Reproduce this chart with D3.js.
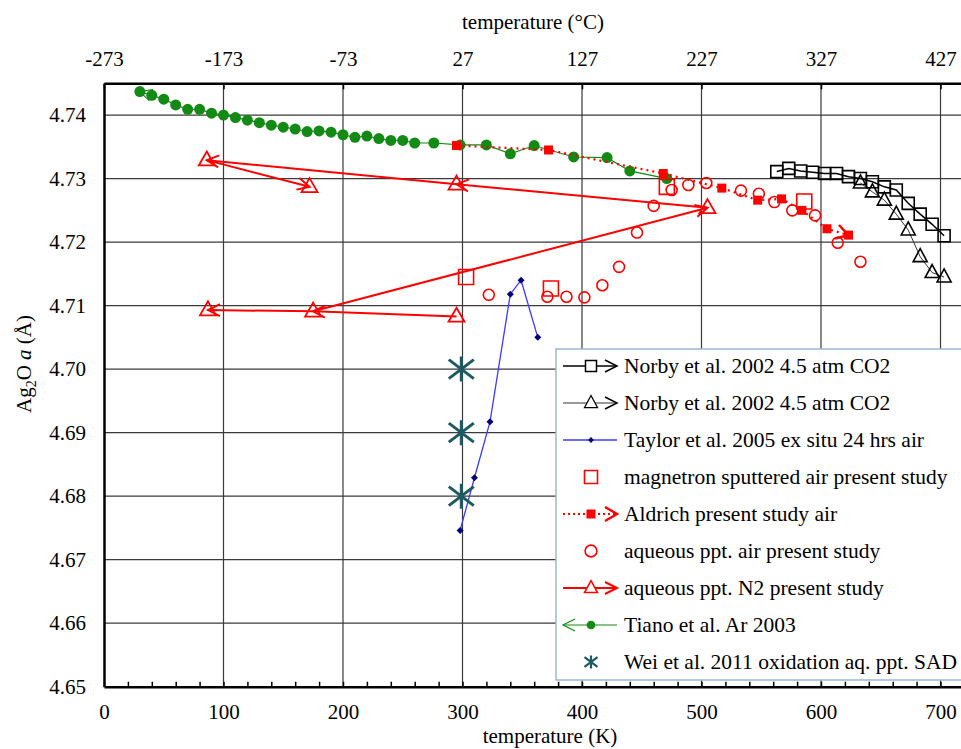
<!DOCTYPE html>
<html>
<head>
<meta charset="utf-8">
<script src="https://cdn.jsdelivr.net/npm/d3@7"></script>
<style>
body { margin: 0; background: #fff; }
text { font-family: "Liberation Serif", "Times New Roman", serif; fill: #000; }
</style>
</head>
<body>
<div id="chart"></div>
<script>
// values (K, lattice parameter in Å)
const tianoK = [30,40,50,60,70,80,90,100,110,120,130,140,150,160,170,180,190,200,210,220,230,240,250,260,276,298,320,340,360,393,421,440,471];
const tianoA = [4.7437,4.7431,4.7425,4.7416,4.7409,4.7409,4.7403,4.7400,4.7396,4.7392,4.7388,4.7384,4.7381,4.7378,4.7374,4.7375,4.7373,4.7369,4.7365,4.7367,4.7363,4.7360,4.7360,4.7356,4.7356,4.7353,4.7353,4.7339,4.7352,4.7334,4.7333,4.7312,4.7300];

const aldrichK = [295,372,468,517,547,567,584,605,623];
const aldrichA = [4.7352,4.7345,4.7308,4.7285,4.7266,4.7268,4.7250,4.7221,4.7211];

const magnetronK = [303,374,471,586];
const magnetronA = [4.7145,4.7127,4.7287,4.7264];

const airK = [322,371,387,402,417,431,446,460,475,489,504,533,548,561,576,595,614,633];
const airA = [4.7117,4.7114,4.7114,4.7113,4.7132,4.7161,4.7215,4.7257,4.7282,4.7290,4.7293,4.7281,4.7276,4.7263,4.7250,4.7242,4.7199,4.7169];

const n2K = [295,175,87,505,295,86,172];
const n2A = [4.7083,4.7091,4.7093,4.7254,4.7291,4.7329,4.7287];
const n2Steps = [[0,1],[1,2],[1,3],[3,4],[4,5],[5,6]];

const norbySqK = [563,573,583,593,603,613,623,633,643,653,663,673,683,693,703];
const norbySqA = [4.7311,4.7316,4.7312,4.7310,4.7308,4.7308,4.7303,4.7300,4.7295,4.7287,4.7282,4.7261,4.7244,4.7228,4.7210];

const norbyTriK = [633,643,653,663,673,683,693,703];
const norbyTriA = [4.7293,4.7279,4.7266,4.7244,4.7219,4.7177,4.7152,4.7145];

const taylorK = [298,310,323,340,349,363];
const taylorA = [4.6746,4.6829,4.6917,4.7118,4.7140,4.7050];

const weiK = [299,299,299];
const weiA = [4.700,4.690,4.680];

const kTicks = [0,100,200,300,400,500,600,700];
const aTicks = [4.65,4.66,4.67,4.68,4.69,4.70,4.71,4.72,4.73,4.74];

const legendLabels = [
  "Norby et al. 2002 4.5 atm CO2",
  "Norby et al. 2002 4.5 atm CO2",
  "Taylor et al. 2005 ex situ 24 hrs air",
  "magnetron sputtered air present study",
  "Aldrich present study air",
  "aqueous ppt. air present study",
  "aqueous ppt. N2 present study",
  "Tiano et al. Ar 2003",
  "Wei et al. 2011 oxidation aq. ppt. SAD"
];

const width = 961, height = 749;
const RED = "#ff0000", GREEN = "#138a13", NAVY = "#00007a", BLUE = "#3b3bff", TEAL = "#1d5a62";

const x = d3.scaleLinear().domain([0, 720]).range([104, 964.4]);
const y = d3.scaleLinear().domain([4.65, 4.745]).range([686.7, 83.3]);

const svg = d3.select("#chart").append("svg")
  .attr("width", width)
  .attr("height", height);

// arrow heads
const defs = svg.append("defs");
function arrow(id, color, len, half, sw) {
  defs.append("marker")
    .attr("id", id)
    .attr("markerUnits", "userSpaceOnUse")
    .attr("viewBox", `${-len-4} ${-half-4} ${len+8} ${2*half+8}`)
    .attr("markerWidth", len + 8)
    .attr("markerHeight", 2*half + 8)
    .attr("refX", 0).attr("refY", 0)
    .attr("orient", "auto-start-reverse")
    .append("path")
      .attr("d", `M${-len},${-half} L0,0 L${-len},${half}`)
      .attr("fill", "none")
      .attr("stroke", color)
      .attr("stroke-width", sw);
}
arrow("arRed", RED, 12, 6, 2);
arrow("arRedBig", RED, 12, 7, 2.5);
arrow("arBlack", "#000", 12, 6, 1.5);
arrow("arGreen", GREEN, 12, 6, 1.2);

// grid
const grid = svg.append("g");
grid.selectAll(".gv").data(kTicks.slice(1)).enter().append("line")
  .attr("x1", d => x(d)).attr("x2", d => x(d))
  .attr("y1", y(4.745)).attr("y2", y(4.65))
  .attr("stroke", "#3a3a3a").attr("stroke-width", 1.2);
grid.selectAll(".gh").data(aTicks.slice(1)).enter().append("line")
  .attr("x1", x(0)).attr("x2", x(720))
  .attr("y1", d => y(d)).attr("y2", d => y(d))
  .attr("stroke", "#3a3a3a").attr("stroke-width", 1.2);

// axes
const fontSize = 21;
const axBottom = svg.append("g")
  .attr("transform", `translate(0,${y(4.65)})`)
  .call(d3.axisBottom(x).tickValues(d3.range(0, 721, 20)).tickSize(-5).tickSizeOuter(0)
    .tickPadding(17).tickFormat(d => d % 100 === 0 ? d : ""));
const axTop = svg.append("g")
  .attr("transform", `translate(0,${y(4.745)})`)
  .call(d3.axisTop(x).tickValues(kTicks).tickSize(-6).tickSizeOuter(0)
    .tickPadding(17).tickFormat(d => d - 273));
const axLeft = svg.append("g")
  .attr("transform", `translate(${x(0)},0)`)
  .call(d3.axisLeft(y).tickValues(aTicks).tickSize(0).tickSizeOuter(0)
    .tickPadding(18).tickFormat(d3.format(".2f")));
[axBottom, axTop, axLeft].forEach(g => {
  g.select(".domain").attr("stroke", "#000").attr("stroke-width", 2.5);
  g.selectAll(".tick line").attr("stroke", "#000").attr("stroke-width", 1.5);
  g.selectAll("text").attr("font-size", fontSize)
    .attr("font-family", '"Liberation Serif", serif').attr("fill", "#000");
});

// axis titles
svg.append("text").attr("x", 533).attr("y", 29).attr("text-anchor", "middle")
  .attr("font-size", fontSize).text("temperature (°C)");
svg.append("text").attr("x", 550).attr("y", 743).attr("text-anchor", "middle")
  .attr("font-size", fontSize).text("temperature (K)");
const ylab = svg.append("text")
  .attr("transform", "translate(31,364) rotate(-90)")
  .attr("text-anchor", "middle").attr("font-size", fontSize);
ylab.append("tspan").text("Ag");
ylab.append("tspan").attr("font-size", 14).attr("dy", 5).text("2");
ylab.append("tspan").attr("dy", -5).text("O ");
ylab.append("tspan").attr("font-style", "italic").text("a");
ylab.append("tspan").text(" (Å)");

// marker shapes
const sq = s => `M${-s/2},${-s/2}h${s}v${s}h${-s}Z`;
const tri = (w, h) => `M0,${-h*0.62}L${w/2},${h*0.38}L${-w/2},${h*0.38}Z`;
const dia = s => `M0,${-s/2}L${s/2},0L0,${s/2}L${-s/2},0Z`;
const star = (w, h) => `M0,${-h/2}V${h/2}M${-w/2},${-h*0.38}L${w/2},${h*0.38}M${-w/2},${h*0.38}L${w/2},${-h*0.38}`;

const zip = (ks, as) => ks.map((k, i) => [k, as[i]]);
const line = d3.line().x(d => x(d[0])).y(d => y(d[1]));
const plot = svg.append("g");

function marks(data, shape, fill, stroke, sw) {
  plot.append("g").selectAll("path").data(data).enter().append("path")
    .attr("transform", d => `translate(${x(d[0])},${y(d[1])})`)
    .attr("d", shape)
    .attr("fill", fill).attr("stroke", stroke).attr("stroke-width", sw);
}

// Tiano (green)
const tiano = zip(tianoK, tianoA);
plot.append("path").datum(tiano).attr("d", line)
  .attr("fill", "none").attr("stroke", GREEN).attr("stroke-width", 1.2)
  .attr("marker-start", "url(#arGreen)");
plot.append("g").selectAll("circle").data(tiano).enter().append("circle")
  .attr("cx", d => x(d[0])).attr("cy", d => y(d[1])).attr("r", 5.5)
  .attr("fill", GREEN);

// Aldrich (red dotted)
const aldrich = zip(aldrichK, aldrichA);
plot.append("path").datum(aldrich).attr("d", line)
  .attr("fill", "none").attr("stroke", RED).attr("stroke-width", 2.2)
  .attr("stroke-dasharray", "2,4").attr("marker-end", "url(#arRedBig)");
marks(aldrich, sq(9), RED, "none", 0);

// magnetron
marks(zip(magnetronK, magnetronA), sq(15), "none", RED, 1.6);

// aqueous air circles
plot.append("g").selectAll("circle").data(zip(airK, airA)).enter().append("circle")
  .attr("cx", d => x(d[0])).attr("cy", d => y(d[1])).attr("r", 5.5)
  .attr("fill", "none").attr("stroke", RED).attr("stroke-width", 1.6);

// aqueous N2 with arrows
const n2 = zip(n2K, n2A);
plot.append("g").selectAll("line").data(n2Steps).enter().append("line")
  .attr("x1", d => x(n2[d[0]][0])).attr("y1", d => y(n2[d[0]][1]))
  .attr("x2", d => x(n2[d[1]][0])).attr("y2", d => y(n2[d[1]][1]))
  .attr("stroke", RED).attr("stroke-width", 2)
  .attr("marker-end", "url(#arRed)");
marks(n2, tri(16, 14), "none", RED, 1.8);

// Norby squares / triangles
const nsq = zip(norbySqK, norbySqA);
plot.append("path").datum(nsq).attr("d", line)
  .attr("fill", "none").attr("stroke", "#000").attr("stroke-width", 1.5);
marks(nsq, sq(12), "none", "#000", 1.6);
const ntri = zip(norbyTriK, norbyTriA);
plot.append("path").datum(ntri).attr("d", line)
  .attr("fill", "none").attr("stroke", "#333").attr("stroke-width", 1);
marks(ntri, tri(14, 13), "none", "#000", 1.6);

// Taylor
const taylor = zip(taylorK, taylorA);
plot.append("path").datum(taylor).attr("d", line)
  .attr("fill", "none").attr("stroke", BLUE).attr("stroke-width", 1.3);
marks(taylor, dia(7), NAVY, "none", 0);

// Wei
marks(zip(weiK, weiA), star(25, 25), "none", TEAL, 3);

// legend
const lg = svg.append("g");
lg.append("rect").attr("x", 556).attr("y", 349).attr("width", 430).attr("height", 331)
  .attr("fill", "#fff").attr("stroke", "#9cb6d8").attr("stroke-width", 1.5);
const rows = lg.selectAll(".row").data(legendLabels).enter().append("g")
  .attr("transform", (d, i) => `translate(0,${366 + i * 37})`);
rows.append("text").attr("x", 624).attr("dy", "0.33em")
  .attr("font-size", 21.5).text(d => d);

function legLine(i, color, sw, dash, mEnd, mStart) {
  const l = rows.filter((d, j) => j === i).append("line")
    .attr("x1", 563).attr("x2", 617).attr("stroke", color).attr("stroke-width", sw);
  if (dash) l.attr("stroke-dasharray", dash);
  if (mEnd) l.attr("marker-end", mEnd);
  if (mStart) l.attr("marker-start", mStart);
}
function legMark(i, shape, fill, stroke, sw) {
  rows.filter((d, j) => j === i).append("path")
    .attr("transform", "translate(591,0)")
    .attr("d", shape).attr("fill", fill).attr("stroke", stroke).attr("stroke-width", sw);
}
legLine(0, "#000", 1.5, null, "url(#arBlack)");
legMark(0, sq(11), "#fff", "#000", 1.5);
legLine(1, "#333", 1, null, "url(#arBlack)");
legMark(1, tri(13, 12), "#fff", "#000", 1.3);
legLine(2, BLUE, 1.3);
legMark(2, dia(6), NAVY, "none", 0);
legMark(3, sq(13), "none", RED, 1.6);
legLine(4, RED, 2.2, "2,3", "url(#arRedBig)");
legMark(4, sq(9), RED, "none", 0);
legMark(5, d3.symbol(d3.symbolCircle, 110)(), "none", RED, 1.6);
legLine(6, RED, 2, null, "url(#arRed)");
legMark(6, tri(13, 12), "#fff", RED, 1.5);
legLine(7, GREEN, 1.2, null, null, "url(#arGreen)");
legMark(7, d3.symbol(d3.symbolCircle, 60)(), GREEN, "none", 0);
legMark(8, star(13, 13), "none", TEAL, 2.2);
</script>
</body>
</html>
